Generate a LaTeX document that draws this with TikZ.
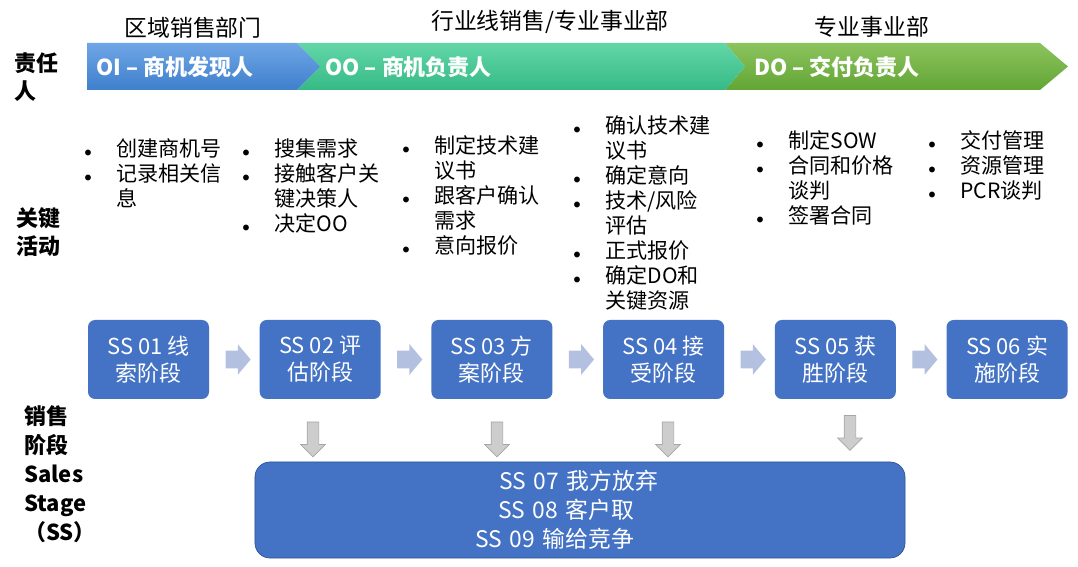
\documentclass[tikz,border=0pt]{standalone}
\usepackage{fontspec}
\setmainfont{Noto Sans CJK SC}
\usetikzlibrary{positioning,calc,shapes.arrows}

\definecolor{azul}{HTML}{4472C4}
\definecolor{azulborde}{HTML}{2F5597}
\definecolor{flecha}{HTML}{B4C0DF}
\definecolor{gris}{HTML}{CDCDCD}
\definecolor{grisborde}{HTML}{A6A6A6}
\definecolor{oiarriba}{HTML}{6FA6E6}
\definecolor{oiabajo}{HTML}{3F7FCC}
\definecolor{ooarriba}{HTML}{63D6A8}
\definecolor{ooabajo}{HTML}{35BA85}
\definecolor{doarriba}{HTML}{8CC45E}
\definecolor{doabajo}{HTML}{62A535}

\newcommand{\vi}{\makebox[7mm][l]{\hspace{0.6mm}$\scriptstyle\bullet$}}
\newcommand{\sg}{\hspace*{7mm}}

\begin{document}
\begin{tikzpicture}[x=0.2mm,y=-0.2mm,
  rot/.style={anchor=north west,align=left,inner sep=0pt,
              font=\bfseries\fontsize{12.5}{16}\selectfont},
  dep/.style={inner sep=0pt,font=\fontsize{13}{15}\selectfont},
  resp/.style={anchor=west,inner sep=0pt,text=white,
               font=\bfseries\fontsize{12.5}{15}\selectfont},
  act/.style={anchor=north west,align=left,inner sep=0pt,
              font=\fontsize{12}{14.2}\selectfont},
  eta/.style={fill=azul,rounded corners=4pt,align=center,text=white,
              minimum width=24.2mm,minimum height=15.8mm,
              font=\fontsize{12.5}{15.4}\selectfont},
  fd/.style={single arrow,fill=flecha,inner sep=1.7mm,minimum width=0pt,
             minimum height=5mm,single arrow head extend=1.3mm,
             single arrow tip angle=100},
  fb/.style={single arrow,shape border rotate=270,fill=gris,draw=grisborde,
             thin,inner sep=1.1mm,minimum width=0pt,minimum height=7mm,
             single arrow head extend=1.3mm}]

  \useasboundingbox (0,0) rectangle (1078,567);

  % banda de responsables
  \shade[top color=doarriba,bottom color=doabajo]
    (725,43) -- (1040,43) -- (1068,66.5) -- (1040,90) -- (725,90) -- (745,66.5) -- cycle;
  \shade[top color=ooarriba,bottom color=ooabajo]
    (297,43) -- (725,43) -- (745,66.5) -- (725,90) -- (297,90) -- (320,66.5) -- cycle;
  \shade[top color=oiarriba,bottom color=oiabajo]
    (87,43) -- (297,43) -- (320,66.5) -- (297,90) -- (87,90) -- cycle;

  \node[dep] (rv) at (193,28) {区域销售部门};
  \node[dep] (lin) at (550,22) {行业线销售/专业事业部};
  \node[dep] (pro) at (872,27) {专业事业部};

  \node[resp] (oi) at (96,67) {OI – 商机发现人};
  \node[resp] (oo) at (325,67) {OO – 商机负责人};
  \node[resp] (do) at (754,67) {DO – 交付负责人};

  % filas
  \node[rot] (r1) at (14,52) {责任\\人};
  \node[rot] (r2) at (16,207) {关键\\活动};
  \node[rot,font=\bfseries\fontsize{12.5}{16.5}\selectfont] (r3) at (24,405)
    {销售\\阶段\\Sales\\Stage\\（SS）};

  % actividades
  \node[act] (a1) at (81,138.5) {\vi 创建商机号\\\vi 记录相关信\\\sg 息};
  \node[act] (a2) at (239,138.5) {\vi 搜集需求\\\vi 接触客户关\\\sg 键决策人\\\vi 决定OO};
  \node[act] (a3) at (399,135.5) {\vi 制定技术建\\\sg 议书\\\vi 跟客户确认\\\sg 需求\\\vi 意向报价};
  \node[act] (a4) at (570,115.5) {\vi 确认技术建\\\sg 议书\\\vi 确定意向\\\vi 技术/风险\\\sg 评估\\\vi 正式报价\\\vi 确定DO和\\\sg 关键资源};
  \node[act] (a5) at (753,130.5) {\vi 制定SOW\\\vi 合同和价格\\\sg 谈判\\\vi 签署合同};
  \node[act] (a6) at (925,130.5) {\vi 交付管理\\\vi 资源管理\\\vi PCR谈判};

  % etapas
  \node[eta] (s1) at (148.5,359.5) {SS 01 线\\索阶段};
  \node[eta,right=10mm of s1] (s2) {SS 02 评\\估阶段};
  \node[eta,right=10mm of s2] (s3) {SS 03 方\\案阶段};
  \node[eta,right=10mm of s3] (s4) {SS 04 接\\受阶段};
  \node[eta,right=10mm of s4] (s5) {SS 05 获\\胜阶段};
  \node[eta,right=10mm of s5] (s6) {SS 06 实\\施阶段};

  \node[fd] (f12) at ($(s1.east)!.5!(s2.west)$) {};
  \node[fd] (f23) at ($(s2.east)!.5!(s3.west)$) {};
  \node[fd] (f34) at ($(s3.east)!.5!(s4.west)$) {};
  \node[fd] (f45) at ($(s4.east)!.5!(s5.west)$) {};
  \node[fd] (f56) at ($(s5.east)!.5!(s6.west)$) {};

  \node[fill=azul,draw=azulborde,rounded corners=3mm,minimum height=19.2mm,
        text width=42mm,inner xsep=44mm,align=left,text=white,
        font=\fontsize{13}{16.5}\selectfont] (fin) at (580,510)
    {\hspace*{4.8mm}SS 07 我方放弃\\\hspace*{4.6mm}SS 08 客户取\\SS 09 输给竞争};

  \node[fb] (b2) at (313,436.5) {};
  \node[fb] (b3) at (497,436.5) {};
  \node[fb] (b4) at (668,436.5) {};
  \node[fb] (b5) at (850,430) {};
\end{tikzpicture}
\end{document}
